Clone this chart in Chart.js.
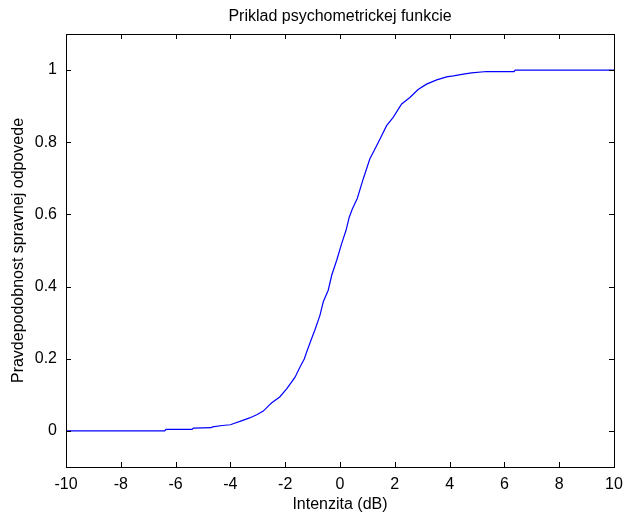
<!DOCTYPE html>
<html><head><meta charset="utf-8">
<script src="https://cdn.jsdelivr.net/npm/chart.js@4/dist/chart.umd.min.js"></script>
<style>html,body{margin:0;padding:0;background:#fff}</style>
</head><body>
<canvas id="c" width="625" height="515" style="display:block;width:625px;height:515px"></canvas>
<script>
const titleText = 'Priklad psychometrickej funkcie';
const xLabel = 'Intenzita (dB)';
const yLabel = 'Pravdepodobnost spravnej odpovede';
const xTicks = [-10, -8, -6, -4, -2, 0, 2, 4, 6, 8, 10];
const yTicks = [0, 0.2, 0.4, 0.6, 0.8, 1];
const intensity = [-10, -6.4, -6.35, -5.4, -5.35, -4.7, -4.65, -4.3, -4.0, -3.9, -3.6, -3.3, -3.04, -2.8, -2.6, -2.49, -2.2, -1.94, -1.64, -1.46, -1.3, -1.22, -1.09, -0.91, -0.73, -0.61, -0.43, -0.30, -0.12, 0.06, 0.22, 0.34, 0.45, 0.63, 0.85, 1.09, 1.28, 1.46, 1.70, 1.94, 2.25, 2.55, 2.85, 3.16, 3.53, 3.89, 4.14, 4.5, 4.8, 5.35, 6.35, 6.4, 10];
const probability = [0, 0, 0.004, 0.004, 0.008, 0.009, 0.011, 0.015, 0.017, 0.020, 0.028, 0.036, 0.045, 0.055, 0.070, 0.078, 0.094, 0.117, 0.149, 0.177, 0.200, 0.218, 0.245, 0.281, 0.321, 0.358, 0.390, 0.432, 0.473, 0.519, 0.556, 0.593, 0.615, 0.644, 0.699, 0.754, 0.782, 0.809, 0.846, 0.869, 0.906, 0.924, 0.946, 0.961, 0.973, 0.981, 0.984, 0.989, 0.992, 0.996, 0.996, 1.0, 1.0];

const FONT = "'Liberation Sans', Arial, sans-serif";
const FS = 16;

const frame = {
  id: 'frame',
  afterDraw(chart) {
    const {ctx, chartArea: a, scales: {x, y}} = chart;
    const L = 5;
    ctx.save();
    ctx.strokeStyle = '#000';
    ctx.lineWidth = 1;
    ctx.beginPath();
    x.ticks.forEach(t => {
      const px = Math.round(x.getPixelForValue(t.value)) + 0.5;
      ctx.moveTo(px, a.bottom); ctx.lineTo(px, a.bottom - L);
      ctx.moveTo(px, a.top); ctx.lineTo(px, a.top + L);
    });
    y.ticks.forEach(t => {
      const py = Math.round(y.getPixelForValue(t.value)) + 0.5;
      ctx.moveTo(a.left, py); ctx.lineTo(a.left + L, py);
      ctx.moveTo(a.right, py); ctx.lineTo(a.right - L, py);
    });
    ctx.stroke();
    ctx.strokeRect(Math.round(a.left) + 0.5, Math.round(a.top) + 0.5, Math.round(a.right - a.left), Math.round(a.bottom - a.top));
    ctx.restore();
  }
};

new Chart(document.getElementById('c'), {
  type: 'line',
  data: {
    datasets: [{
      data: intensity.map((v, i) => ({x: v, y: probability[i]})),
      borderColor: '#0000ff',
      borderWidth: 1.2,
      pointRadius: 0,
      tension: 0,
      fill: false
    }]
  },
  plugins: [frame],
  options: {
    responsive: false,
    animation: false,
    layout: {padding: {left: 0, right: 11, top: 0, bottom: 0}},
    plugins: {
      legend: {display: false},
      tooltip: {enabled: false},
      title: {
        display: true,
        fullSize: false,
        text: titleText,
        color: '#000',
        font: {family: FONT, size: FS, weight: 'normal', lineHeight: 1.2},
        padding: {top: 7, bottom: 7.8}
      }
    },
    scales: {
      x: {
        type: 'linear',
        min: -10, max: 10,
        afterBuildTicks: s => { s.ticks = xTicks.map(v => ({value: v})); },
        afterFit: s => { s.height = 48; s.paddingLeft = 0; s.paddingRight = 0; },
        grid: {display: false, drawTicks: false},
        border: {display: false},
        ticks: {color: '#000', font: {family: FONT, size: FS}, padding: 8, maxRotation: 0, autoSkip: false,
                callback: v => String(v)},
        title: {display: true, text: xLabel, color: '#000', font: {family: FONT, size: FS}, padding: {top: 0, bottom: 1}}
      },
      y: {
        type: 'linear',
        min: -0.1, max: 1.1,
        afterBuildTicks: s => { s.ticks = yTicks.map(v => ({value: v})); },
        afterFit: s => { s.width = 66; s.paddingTop = 0; s.paddingBottom = 0; },
        grid: {display: false, drawTicks: false},
        border: {display: false},
        ticks: {color: '#000', font: {family: FONT, size: FS}, padding: 9, autoSkip: false,
                callback: v => String(v)},
        title: {display: true, text: yLabel, color: '#000', font: {family: FONT, size: FS}, padding: {top: 8.5, bottom: 0}}
      }
    }
  }
});
</script>
</body></html>
